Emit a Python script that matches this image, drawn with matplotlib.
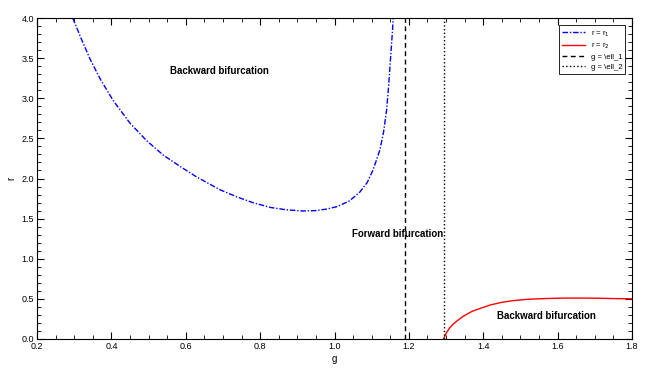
import numpy as np
import matplotlib.pyplot as plt
from matplotlib.ticker import MultipleLocator

plt.rcParams['font.family'] = ['Liberation Sans', 'DejaVu Sans']

# r = r_1 branch
g1 = [0.296, 0.32, 0.3425, 0.37, 0.405, 0.45, 0.495, 0.54, 0.585, 0.629, 0.692, 0.738,
      0.78, 0.827, 0.87, 0.915, 0.95, 0.98, 1.007, 1.04, 1.068, 1.088, 1.104, 1.122,
      1.132, 1.140, 1.145, 1.150, 1.155, 1.158]
r1 = [4.0, 3.73, 3.49, 3.24, 2.97, 2.69, 2.47, 2.29, 2.15, 2.02, 1.86, 1.77,
      1.70, 1.64, 1.61, 1.595, 1.60, 1.62, 1.65, 1.72, 1.83, 1.95, 2.11, 2.355,
      2.58, 2.85, 3.12, 3.45, 3.78, 4.0]

# r = r_2 branch
g2 = [1.293, 1.30, 1.31, 1.32, 1.345, 1.37, 1.391, 1.42, 1.45, 1.48, 1.52, 1.571,
      1.62, 1.67, 1.71, 1.75, 1.8]
r2 = [0.0, 0.07, 0.14, 0.19, 0.28, 0.345, 0.38, 0.425, 0.457, 0.478, 0.495, 0.505,
      0.51, 0.51, 0.508, 0.504, 0.50]

ell_1 = 1.19
ell_2 = 1.294

fig = plt.figure(figsize=(6.56, 3.68), dpi=100)
ax = fig.add_axes([37/656, 1 - 339/368, 595/656, 321/368])

ax.plot(g1, r1, color='blue', linestyle=(0, (4, 1.3, 1, 1.3)), linewidth=1, label='r = r$_1$')
ax.plot(g2, r2, color='red', linestyle='-', linewidth=1, label='r = r$_2$')
ax.axvline(ell_1, color='black', linestyle=(0, (3.5, 2.5)), linewidth=1, label='g = \\ell_1')
ax.axvline(ell_2, color='black', linestyle=':', linewidth=1, label='g = \\ell_2')

ax.text(0.69, 3.34, 'Backward bifurcation', fontsize=7, fontweight='bold', ha='center', va='center')
ax.text(1.17, 1.31, 'Forward bifurcation', fontsize=7, fontweight='bold', ha='center', va='center')
ax.text(1.57, 0.29, 'Backward bifurcation', fontsize=7, fontweight='bold', ha='center', va='center')

ax.set_xlim(0.2, 1.8)
ax.set_ylim(0, 4)
ax.xaxis.set_major_locator(MultipleLocator(0.2))
ax.xaxis.set_minor_locator(MultipleLocator(0.05))
ax.yaxis.set_major_locator(MultipleLocator(0.5))
ax.yaxis.set_minor_locator(MultipleLocator(0.1))
ax.xaxis.set_major_formatter(plt.FormatStrFormatter('%.1f'))
ax.yaxis.set_major_formatter(plt.FormatStrFormatter('%.1f'))
ax.tick_params(which='both', direction='in', top=True, right=True, labelsize=6.5, pad=2)
ax.tick_params(which='major', length=5, width=0.8)
ax.tick_params(which='minor', length=3, width=0.6)
for s in ax.spines.values():
    s.set_linewidth(0.8)

ax.set_xlabel('g', fontsize=7, labelpad=2)
ax.set_ylabel('r', fontsize=7, labelpad=4)

leg = ax.legend(loc='upper right', fontsize=5.5, fancybox=False, framealpha=1,
                edgecolor='black', handlelength=3, borderpad=0.4, labelspacing=0.3,
                bbox_to_anchor=(0.995, 0.99))
leg.get_frame().set_linewidth(0.6)

fig.savefig('out.png', dpi=100)
